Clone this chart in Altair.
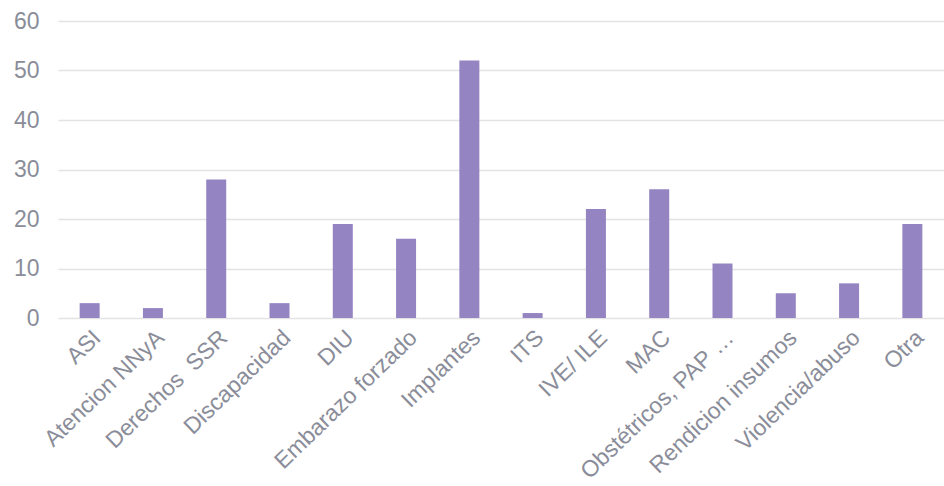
import altair as alt
import pandas as pd

categories = ["ASI", "Atencion NNyA", "Derechos\u00a0 SSR", "Discapacidad", "DIU",
              "Embarazo forzado", "Implantes", "ITS", "IVE/ ILE", "MAC",
              "Obstétricos, PAP …", "Rendicion insumos", "Violencia/abuso", "Otra"]
values = [3, 2, 28, 3, 19, 16, 52, 1, 22, 26, 11, 5, 7, 19]
y_ticks = [0, 10, 20, 30, 40, 50, 60]

df = pd.DataFrame({"cat": categories, "val": values})

chart = alt.Chart(df).mark_bar(color="#9484c1", size=20).encode(
    x=alt.X("cat:N", sort=categories, title=None,
            scale=alt.Scale(paddingInner=0, paddingOuter=0),
            axis=alt.Axis(labelAngle=-44, labelFont="Liberation Sans", labelFontSize=23,
                          labelColor="#8a8d99", domain=False, ticks=False,
                          labelPadding=8, labelLimit=300)),
    y=alt.Y("val:Q", title=None, scale=alt.Scale(domain=[0, 60], nice=False),
            axis=alt.Axis(values=y_ticks, labelFont="Liberation Sans", labelFontSize=23,
                          labelColor="#8a8d99", domain=False, ticks=False,
                          labelPadding=19, gridColor="#e3e3e3", gridWidth=1.5)),
).properties(
    width=886, height=297,
    background="white",
    autosize=alt.AutoSizeParams(type="none"),
    padding={"left": 58, "top": 21, "right": 0, "bottom": 168},
).configure_view(stroke=None)

chart.save("out.html", embed_options={"renderer": "svg", "actions": False})
